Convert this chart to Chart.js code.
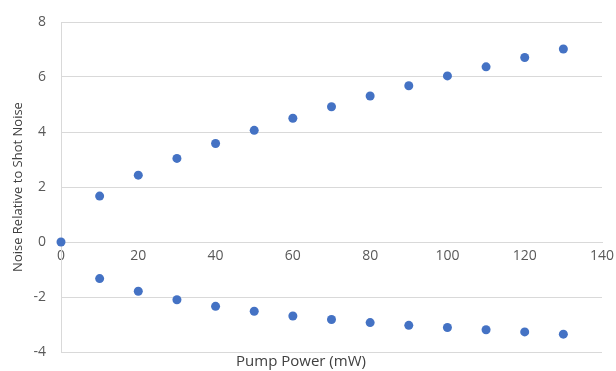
<!DOCTYPE html>
<html lang="en">
<head>
    <meta charset="UTF-8">
    <title>Noise Relative to Shot Noise vs Pump Power</title>
    <script src="https://cdn.jsdelivr.net/npm/chart.js"></script>
    <style>
        body {
            margin: 0;
            background: #ffffff;
        }
        #wrap {
            width: 616px;
            height: 371px;
        }
    </style>
</head>
<body>
    <div id="wrap"><canvas id="chart"></canvas></div>

    <script>
        const pumpPower = [0, 10, 20, 30, 40, 50, 60, 70, 80, 90, 100, 110, 120, 130];
        const upperNoise = [0, 1.67, 2.43, 3.04, 3.58, 4.06, 4.5, 4.92, 5.31, 5.68, 6.04, 6.37, 6.71, 7.02];
        const lowerNoise = [null, -1.33, -1.79, -2.1, -2.34, -2.52, -2.69, -2.82, -2.93, -3.03, -3.11, -3.19, -3.27, -3.35];
        const xTicks = [0, 20, 40, 60, 80, 100, 120, 140];
        const yTicks = [-4, -2, 0, 2, 4, 6, 8];

        const font = "'Open Sans', sans-serif";
        const blue = '#4472C4';

        function toPoints(ys) {
            return pumpPower.map((x, i) => ({ x: x, y: ys[i] })).filter(p => p.y !== null);
        }

        // keep tick labels from pushing the plot area around
        function noPadding(s) {
            s.paddingTop = 0;
            s.paddingBottom = 0;
            s.paddingLeft = 0;
            s.paddingRight = 0;
        }

        const ctx = document.getElementById('chart').getContext('2d');
        const chart = new Chart(ctx, {
            type: 'scatter',
            data: {
                datasets: [
                    { label: 'Upper', data: toPoints(upperNoise), backgroundColor: blue, borderColor: blue, pointRadius: 4.5, pointBorderWidth: 0, clip: false },
                    { label: 'Lower', data: toPoints(lowerNoise), backgroundColor: blue, borderColor: blue, pointRadius: 4.5, pointBorderWidth: 0, clip: false }
                ]
            },
            options: {
                responsive: true,
                maintainAspectRatio: false,
                animation: false,
                layout: { padding: { left: 0, right: 14, top: 22, bottom: 0 } },
                plugins: {
                    legend: { display: false },
                    tooltip: { enabled: false },
                    title: {
                        display: true,
                        position: 'bottom',
                        text: 'Pump Power (mW)',
                        color: '#404040',
                        font: { family: font, size: 15, weight: 'normal' },
                        padding: { top: 1, bottom: 0 }
                    }
                },
                scales: {
                    x: {
                        type: 'linear',
                        position: { y: 0 },
                        min: 0,
                        max: 140,
                        afterBuildTicks: s => { s.ticks = xTicks.map(v => ({ value: v })); },
                        afterFit: noPadding,
                        grid: { display: false, drawTicks: false },
                        border: { display: true, color: '#d9d9d9', width: 1 },
                        ticks: { color: '#595959', font: { family: font, size: 14 }, padding: 6, maxRotation: 0 }
                    },
                    y: {
                        min: -4,
                        max: 8,
                        afterBuildTicks: s => { s.ticks = yTicks.map(v => ({ value: v })); },
                        afterFit: s => { s.width = 61; noPadding(s); },
                        grid: { color: '#d9d9d9', drawTicks: false },
                        border: { display: true, color: '#d9d9d9', width: 1 },
                        ticks: { color: '#595959', font: { family: font, size: 14 }, padding: 15 },
                        title: {
                            display: true,
                            text: 'Noise Relative to Shot Noise',
                            color: '#404040',
                            font: { family: font, size: 13 },
                            padding: { top: 10, bottom: 0 }
                        }
                    }
                }
            }
        });
    </script>
</body>
</html>
